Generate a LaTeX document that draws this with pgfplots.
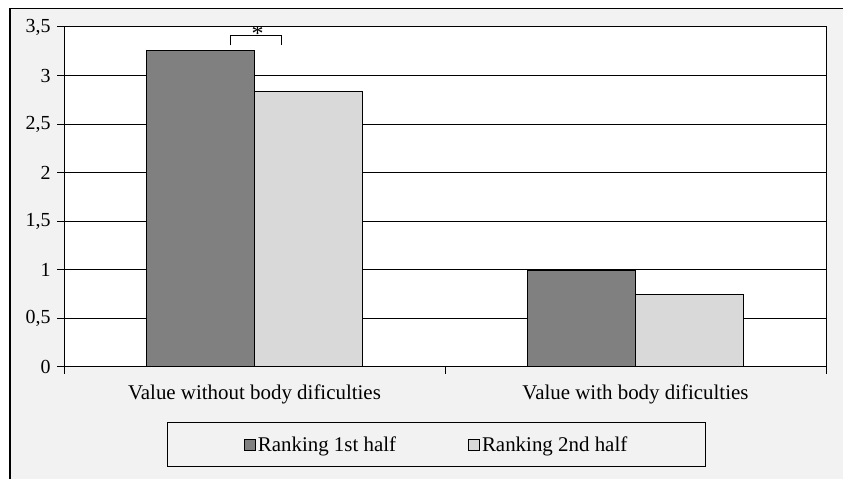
\documentclass[border=0pt]{standalone}
\usepackage{pgfplots}
\pgfplotsset{compat=1.18}
\usepackage{fontspec}
\setmainfont{Liberation Serif}
\definecolor{bgray}{HTML}{F2F2F2}
\definecolor{darkbar}{HTML}{808080}
\definecolor{lightbar}{HTML}{D9D9D9}
\begin{document}
\begin{tikzpicture}[x=1bp,y=1bp]
\fill[white] (0,0) rectangle (843,479);
\useasboundingbox (0,0) rectangle (843,479);
\fill[bgray] (10,0) rectangle (843,470.5);
\draw[line width=1.2bp] (10,0) -- (10,470.5) -- (843,470.5);
\begin{axis}[
  at={(64bp,112bp)}, anchor=south west,
  scale only axis, width=762bp, height=340bp,
  axis background/.style={fill=white},
  ybar=0pt, bar width=108bp,
  xmin=-0.5, xmax=1.5, ymin=0, ymax=3.5,
  xtick={-0.5,0.5,1.5}, xticklabels={},
  extra x ticks={0,1},
  extra x tick labels={Value without body dificulties, Value with body dificulties},
  extra x tick style={major tick length=0pt, grid=none, xticklabel style={yshift=-14bp, font=\fontsize{21}{23}\selectfont}},
  ytick={0,0.5,...,3.5},
  ymajorgrids, grid style={black, line width=1bp},
  tick align=outside, tick pos=left, major tick length=7bp,
  tick style={black, line width=1bp},
  axis line style={line width=1bp},
  /pgf/number format/use comma,
  /pgf/number format/assume math mode=true,
  ticklabel style={font=\fontsize{20}{22}\selectfont},
  yticklabel style={xshift=-3bp},
  legend style={at={(0.489,-0.228)}, anchor=center, legend columns=2,
    draw=black, line width=1.1bp, fill=none, inner xsep=76bp, inner ysep=12bp,
    font=\fontsize{21}{23}\selectfont, nodes={inner xsep=2bp},
    /tikz/every even column/.append style={column sep=70bp}},
  legend image code/.code={\draw[#1,draw=black,line width=0.9bp] (0bp,-5.5bp) rectangle (11bp,5.5bp);},
]
\addplot[fill=darkbar, draw=black, line width=1.1bp] coordinates {(0,3.26) (1,0.99)};
\addplot[fill=lightbar, draw=black, line width=1.1bp] coordinates {(0,2.84) (1,0.75)};
\legend{Ranking 1st half, Ranking 2nd half}
\draw[black, line width=1.1bp] (axis cs:-0.062,3.31) -- (axis cs:-0.062,3.415) -- (axis cs:0.072,3.415) -- (axis cs:0.072,3.31);
\node[font=\fontsize{24}{26}\selectfont, anchor=center, yshift=-7bp] at (axis cs:0.008,3.5) {*};
\end{axis}
\end{tikzpicture}
\end{document}
